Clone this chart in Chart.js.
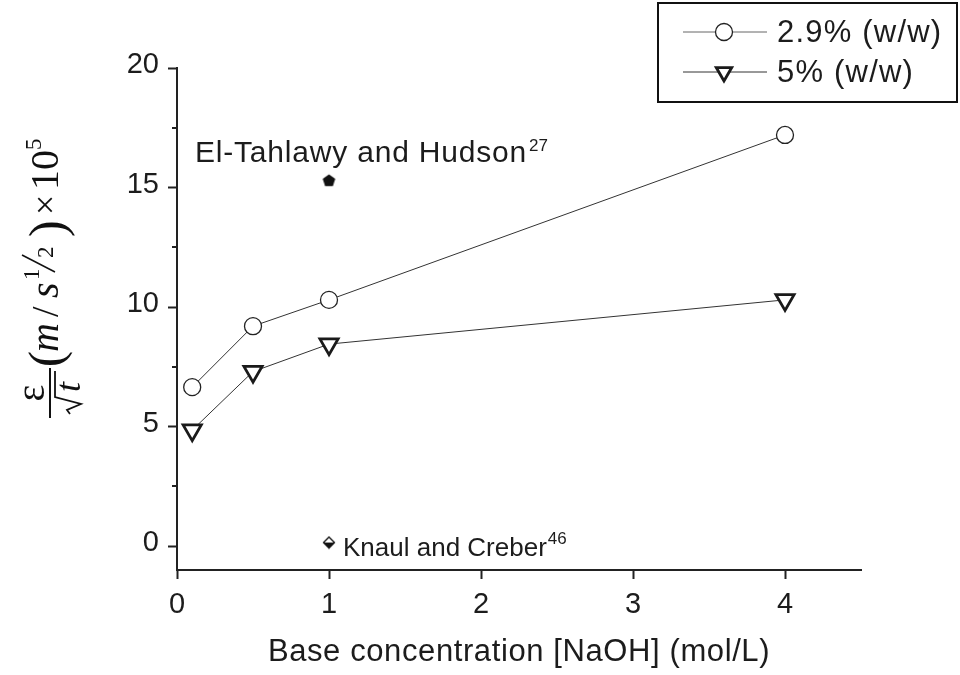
<!DOCTYPE html>
<html><head><meta charset="utf-8">
<script src="https://cdn.jsdelivr.net/npm/chart.js@4/dist/chart.umd.min.js"></script>
<style>html,body{margin:0;padding:0;background:#fff;}#wrap{width:960px;height:675px;position:relative;}</style>
</head><body><div id="wrap"><canvas id="c" width="960" height="675"></canvas></div>
<script>
// ---- data ----
const xConc = [0.1, 0.5, 1, 4];
const series29 = [6.65, 9.2, 10.3, 17.2];
const series5 = [4.85, 7.3, 8.45, 10.3];
const elTahlawyX = [1];
const elTahlawyY = [15.3];
const knaulX = [1];
const knaulY = [0.15];
const xTicks = [0, 1, 2, 3, 4];
const yTicks = [0, 5, 10, 15, 20];
const yMinorTicks = [2.5, 7.5, 12.5, 17.5];
const seriesLabels = ['2.9% (w/w)', '5% (w/w)'];
const xTitle = 'Base concentration [NaOH] (mol/L)';
const annoTahlawy = ['El-Tahlawy and Hudson', '27'];
const annoKnaul = ['Knaul and Creber', '46'];

const SANS = '"Liberation Sans", Arial, Helvetica, sans-serif';
const SERIF = '"Liberation Serif", "Times New Roman", serif';
const INK = '#1c1c1c';

// custom marker images
function pentagonImg() {
  const c = document.createElement('canvas'); c.width = 15; c.height = 15;
  const g = c.getContext('2d'); g.fillStyle = '#111'; g.beginPath();
  for (let k = 0; k < 5; k++) {
    const a = -Math.PI / 2 + k * 2 * Math.PI / 5;
    const px = 7.5 + 6.6 * Math.cos(a), py = 8 + 6.6 * Math.sin(a);
    k ? g.lineTo(px, py) : g.moveTo(px, py);
  }
  g.closePath(); g.fill(); return c;
}
function diamondImg() {
  const c = document.createElement('canvas'); c.width = 14; c.height = 14;
  const g = c.getContext('2d');
  g.beginPath(); g.moveTo(7, 1.5); g.lineTo(12.5, 7); g.lineTo(7, 12.5); g.lineTo(1.5, 7); g.closePath();
  g.fillStyle = '#fff'; g.fill(); g.strokeStyle = '#111'; g.lineWidth = 1.3; g.stroke();
  g.beginPath(); g.moveTo(1.5, 7); g.lineTo(12.5, 7); g.lineTo(7, 12.5); g.closePath();
  g.fillStyle = '#111'; g.fill(); return c;
}

const toXY = (xs, ys) => xs.map((x, i) => ({ x: x, y: ys[i] }));

const circleStyle = { pointStyle: 'circle', pointRadius: 8.5, pointBorderWidth: 1.3, pointBorderColor: '#222', pointBackgroundColor: '#fff', rotation: 0 };
const triStyle = { pointStyle: 'triangle', pointRadius: 10.5, pointBorderWidth: 2.8, pointBorderColor: '#1a1a1a', pointBackgroundColor: '#fff', rotation: 180 };

function drawMarker(ctx, st, x, y, scale) {
  ctx.save();
  ctx.lineWidth = st.pointBorderWidth; ctx.strokeStyle = st.pointBorderColor; ctx.fillStyle = st.pointBackgroundColor;
  const r = st.pointRadius * scale;
  ctx.beginPath();
  if (st.pointStyle === 'circle') {
    ctx.arc(x, y, r, 0, Math.PI * 2);
  } else {
    let rad = st.rotation * Math.PI / 180;
    ctx.moveTo(x + Math.sin(rad) * r, y - Math.cos(rad) * r);
    rad += 2 * Math.PI / 3; ctx.lineTo(x + Math.sin(rad) * r, y - Math.cos(rad) * r);
    rad += 2 * Math.PI / 3; ctx.lineTo(x + Math.sin(rad) * r, y - Math.cos(rad) * r);
    ctx.closePath();
  }
  ctx.fill(); ctx.stroke(); ctx.restore();
}

const decor = {
  id: 'decor',
  afterDraw(chart) {
    const ctx = chart.ctx; const xs = chart.scales.x, ys = chart.scales.y;
    const left = chart.chartArea.left;
    ctx.save();
    // minor y ticks
    ctx.strokeStyle = '#222'; ctx.lineWidth = 2;
    yMinorTicks.forEach(v => {
      const py = Math.round(ys.getPixelForValue(v));
      ctx.beginPath(); ctx.moveTo(left - 5, py); ctx.lineTo(left, py); ctx.stroke();
    });
    // x title
    ctx.fillStyle = INK; ctx.font = '31px ' + SANS; ctx.textAlign = 'center'; ctx.textBaseline = 'alphabetic';
    ctx.letterSpacing = '0.6px';
    ctx.fillText(xTitle, (chart.chartArea.left + chart.chartArea.right) / 2, 661);
    // annotations
    ctx.textAlign = 'left';
    const tx = xs.getPixelForValue(elTahlawyX[0]), ty = ys.getPixelForValue(elTahlawyY[0]);
    ctx.font = '30px ' + SANS; ctx.letterSpacing = '0.8px';
    const ax = tx - 134, ay = ty - 18;
    ctx.fillText(annoTahlawy[0], ax, ay);
    const aw = ctx.measureText(annoTahlawy[0]).width;
    ctx.letterSpacing = '0px';
    ctx.font = '17px ' + SANS; ctx.fillText(annoTahlawy[1], ax + aw + 2, ay - 11);
    const kx = xs.getPixelForValue(knaulX[0]), ky = ys.getPixelForValue(knaulY[0]);
    ctx.font = '26px ' + SANS;
    const bx = kx + 14, by = ky + 13;
    ctx.fillText(annoKnaul[0], bx, by);
    const bw = ctx.measureText(annoKnaul[0]).width;
    ctx.font = '17px ' + SANS; ctx.fillText(annoKnaul[1], bx + bw + 1, by - 12);
    // legend
    ctx.strokeStyle = '#111'; ctx.lineWidth = 2;
    ctx.strokeRect(658, 3, 299, 99);
    const rows = [32, 72]; const styles = [circleStyle, triStyle];
    rows.forEach((ry, i) => {
      ctx.strokeStyle = i === 0 ? '#666' : '#333'; ctx.lineWidth = 1;
      ctx.beginPath(); ctx.moveTo(683, ry); ctx.lineTo(767, ry); ctx.stroke();
      drawMarker(ctx, styles[i], 724, ry, i === 0 ? 1 : 0.85);
      ctx.fillStyle = INK; ctx.font = '31px ' + SANS; ctx.textBaseline = 'middle';
      ctx.letterSpacing = '1.2px';
      ctx.fillText(seriesLabels[i], 777, ry + 1);
      ctx.letterSpacing = '0px';
    });
    ctx.restore();
    drawYTitle(ctx);
  }
};

function drawYTitle(ctx) {
  ctx.save();
  ctx.translate(58, 421);
  ctx.rotate(-Math.PI / 2);
  ctx.fillStyle = '#111'; ctx.strokeStyle = '#111';
  ctx.textBaseline = 'alphabetic'; ctx.textAlign = 'left';
  const reg = s => s + 'px ' + SERIF;
  const ital = s => 'italic ' + s + 'px ' + SERIF;
  // fraction bar
  const barY = -8;
  ctx.lineWidth = 2;
  ctx.beginPath(); ctx.moveTo(3, barY); ctx.lineTo(53, barY); ctx.stroke();
  // numerator epsilon
  ctx.font = reg(40);
  const ew = ctx.measureText('\u03B5').width;
  ctx.fillText('\u03B5', 28 - ew / 2, barY - 6);
  // denominator radical + t
  ctx.lineWidth = 1.8;
  ctx.beginPath();
  ctx.moveTo(7, 12); ctx.lineTo(11, 9); ctx.lineTo(17, 23); ctx.lineTo(24, -3); ctx.lineTo(50, -3);
  ctx.stroke();
  ctx.font = ital(36);
  ctx.fillText('t', 29, 22);
  // (m / s
  ctx.font = reg(48); ctx.fillText('(', 54, 4);
  ctx.font = ital(40); ctx.fillText('m', 69, 0);
  ctx.font = reg(38); ctx.fillText('/', 104, 0);
  ctx.font = ital(40); ctx.fillText('s', 123, 0);
  // superscript 1/2 (slanted)
  ctx.font = reg(23); ctx.fillText('1', 141, -19);
  ctx.lineWidth = 1.5;
  ctx.beginPath(); ctx.moveTo(149, -3); ctx.lineTo(166, -36); ctx.stroke();
  ctx.fillText('2', 163, -5);
  // ) x 10^5
  ctx.font = reg(50); ctx.fillText(')', 184, 6);
  ctx.font = reg(36); ctx.fillText('\u00D7', 206, -1);
  ctx.font = reg(40); ctx.fillText('10', 231, 0);
  ctx.font = reg(23); ctx.fillText('5', 271, -17);
  ctx.restore();
}

const tickFont = { family: SANS, size: 29 };

new Chart(document.getElementById('c'), {
  type: 'scatter',
  data: {
    datasets: [
      Object.assign({ label: seriesLabels[0], data: toXY(xConc, series29), showLine: true, borderColor: '#333', borderWidth: 1 }, circleStyle),
      Object.assign({ label: seriesLabels[1], data: toXY(xConc, series5), showLine: true, borderColor: '#333', borderWidth: 1 }, triStyle),
      { label: 'El-Tahlawy', data: toXY(elTahlawyX, elTahlawyY), showLine: false, pointStyle: pentagonImg(), pointRadius: 7 },
      { label: 'Knaul', data: toXY(knaulX, knaulY), showLine: false, pointStyle: diamondImg(), pointRadius: 7 }
    ]
  },
  options: {
    responsive: false, animation: false, devicePixelRatio: 1,
    layout: { padding: { top: 68, right: 99, left: 0, bottom: 0 } },
    plugins: { legend: { display: false }, tooltip: { enabled: false } },
    scales: {
      x: {
        type: 'linear', min: 0, max: 4.5,
        afterBuildTicks: s => { s.ticks = xTicks.map(v => ({ value: v })); },
        afterFit: s => { s.height = 105; },
        ticks: { font: tickFont, color: INK, padding: 9, maxRotation: 0, autoSkip: false, callback: v => String(v) },
        grid: { display: true, drawOnChartArea: false, drawTicks: true, tickLength: 9, tickWidth: 2, tickColor: '#222' },
        border: { display: true, color: '#222', width: 2 }
      },
      y: {
        type: 'linear', min: -1, max: 20,
        afterBuildTicks: s => { s.ticks = yTicks.map(v => ({ value: v })); },
        afterFit: s => { s.width = 177; },
        ticks: { font: tickFont, color: INK, padding: 9, labelOffset: -3, autoSkip: false, callback: v => String(v) },
        grid: { display: true, drawOnChartArea: false, drawTicks: true, tickLength: 9, tickWidth: 2, tickColor: '#222' },
        border: { display: true, color: '#222', width: 2 }
      }
    }
  },
  plugins: [decor]
});
</script>
</body></html>
